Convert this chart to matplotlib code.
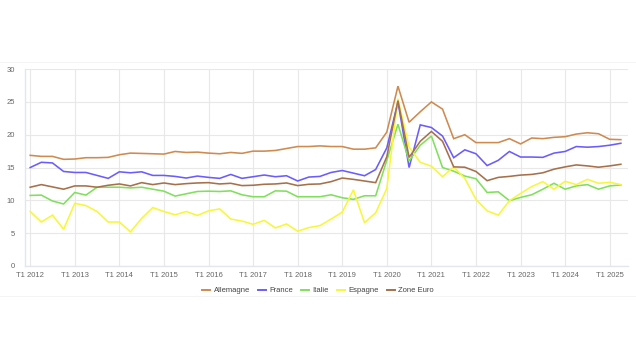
import matplotlib
matplotlib.use("Agg")
import matplotlib.pyplot as plt
from matplotlib.lines import Line2D

plt.rcParams['font.family'] = ['Liberation Sans', 'DejaVu Sans']

years = list(range(2012, 2026))
quarters = [f"T{q} {y}" for y in years for q in (1, 2, 3, 4)][:54]
tick_labels = [f"T1 {y}" for y in years]

allemagne = [16.86, 16.7, 16.7, 16.25, 16.3, 16.5, 16.5, 16.55, 16.95, 17.2, 17.15, 17.1, 17.05, 17.45, 17.3, 17.35,
             17.2, 17.1, 17.3, 17.16, 17.5, 17.5, 17.6, 17.9, 18.2, 18.2, 18.3, 18.2, 18.2, 17.8, 17.8, 18.0,
             20.4, 27.4, 21.9, 23.5, 25.0, 23.9, 19.4, 20.0, 18.8, 18.8, 18.8, 19.4, 18.6, 19.5, 19.4, 19.6,
             19.7, 20.1, 20.3, 20.15, 19.3, 19.25]
france = [15.0, 15.8, 15.7, 14.4, 14.25, 14.25, 13.8, 13.35, 14.35, 14.2, 14.35, 13.8, 13.8, 13.65, 13.4, 13.7,
          13.5, 13.35, 13.95, 13.35, 13.6, 13.86, 13.6, 13.75, 12.95, 13.55, 13.65, 14.25, 14.55, 14.15, 13.75, 14.7,
          18.0, 25.0, 15.0, 21.5, 21.1, 19.8, 16.5, 17.7, 17.1, 15.3, 16.1, 17.45, 16.6, 16.6, 16.55, 17.2,
          17.45, 18.2, 18.1, 18.2, 18.4, 18.7]
italie = [10.75, 10.8, 9.9, 9.45, 11.2, 10.8, 12.0, 12.0, 12.0, 11.9, 12.0, 11.7, 11.4, 10.65, 11.0, 11.35,
          11.4, 11.35, 11.45, 10.85, 10.55, 10.55, 11.45, 11.4, 10.55, 10.55, 10.55, 10.85, 10.4, 10.15, 10.7, 10.7,
          16.1, 21.6, 16.0, 18.4, 19.8, 15.0, 14.45, 13.7, 13.3, 11.2, 11.3, 9.95, 10.45, 10.85, 11.7, 12.6,
          11.7, 12.2, 12.4, 11.7, 12.2, 12.35]
espagne = [8.3, 6.7, 7.75, 5.6, 9.55, 9.2, 8.3, 6.7, 6.7, 5.2, 7.25, 8.9, 8.3, 7.8, 8.3, 7.7,
           8.4, 8.7, 7.15, 6.85, 6.35, 6.95, 5.8, 6.4, 5.3, 5.85, 6.15, 7.15, 8.2, 11.6, 6.6, 8.1,
           11.8, 25.5, 18.1, 15.8, 15.2, 13.6, 15.1, 13.35, 10.15, 8.4, 7.75, 9.95, 11.05, 12.1, 12.85, 11.7,
           12.9, 12.4, 13.2, 12.6, 12.75, 12.4]
zone_euro = [12.0, 12.4, 12.05, 11.7, 12.2, 12.2, 12.0, 12.3, 12.5, 12.2, 12.7, 12.4, 12.65, 12.4, 12.55, 12.65,
             12.7, 12.5, 12.6, 12.25, 12.3, 12.45, 12.5, 12.65, 12.25, 12.45, 12.5, 12.85, 13.4, 13.2, 12.95, 12.7,
             16.65, 25.2, 16.55, 19.0, 20.5, 19.0, 15.1, 15.05, 14.4, 13.0, 13.5, 13.65, 13.85, 13.95, 14.2, 14.75,
             15.1, 15.4, 15.25, 15.05, 15.25, 15.5]

series = [("Allemagne", allemagne, "#cf8a4f"),
          ("France", france, "#6b5cff"),
          ("Italie", italie, "#80e05c"),
          ("Espagne", espagne, "#f7f73a"),
          ("Zone Euro", zone_euro, "#a6704a")]

fig = plt.figure(figsize=(6.36, 3.58), dpi=100)
ax = fig.add_axes([0.0387, 0.257, 0.948, 0.55])

x = list(range(len(quarters)))
for name, vals, col in series:
    ax.plot(x, vals, color=col, lw=1.15, label=name, solid_joinstyle='miter')

ax.set_xlim(-0.5, 53.6)
ax.set_ylim(0, 30)
ax.set_yticks([0, 5, 10, 15, 20, 25, 30])
ax.set_xticks(list(range(0, 54, 4)))
ax.set_xticklabels(tick_labels)
ax.tick_params(axis='both', length=0, labelsize=5.5, labelcolor='#666666')
ax.tick_params(axis='x', pad=4)
ax.tick_params(axis='y', pad=7)
ax.grid(True, color='#e8e8e8', lw=0.8)
ax.set_axisbelow(True)
for s in ['top', 'right']:
    ax.spines[s].set_visible(False)
for s in ['left', 'bottom']:
    ax.spines[s].set_color('#e3e6ec')
    ax.spines[s].set_linewidth(1.0)

handles = [Line2D([0], [0], color=c, lw=1.4) for _, _, c in series]
labels = [n for n, _, _ in series]
fig.legend(handles, labels, loc='center', bbox_to_anchor=(0.5, 1 - 290.5 / 358), ncol=5, frameon=False,
           fontsize=5.5, handlelength=1.1, columnspacing=1.0, handletextpad=0.45,
           labelcolor='#444444')

fig.add_artist(Line2D([0.0, 1.0], [1 - 296 / 358, 1 - 296 / 358], transform=fig.transFigure,
                      color='#f2f2f2', lw=0.6))
fig.add_artist(Line2D([0.0, 1.0], [1 - 62 / 358, 1 - 62 / 358], transform=fig.transFigure,
                      color='#f2f2f2', lw=0.6))

fig.savefig("out.png", dpi=100)
